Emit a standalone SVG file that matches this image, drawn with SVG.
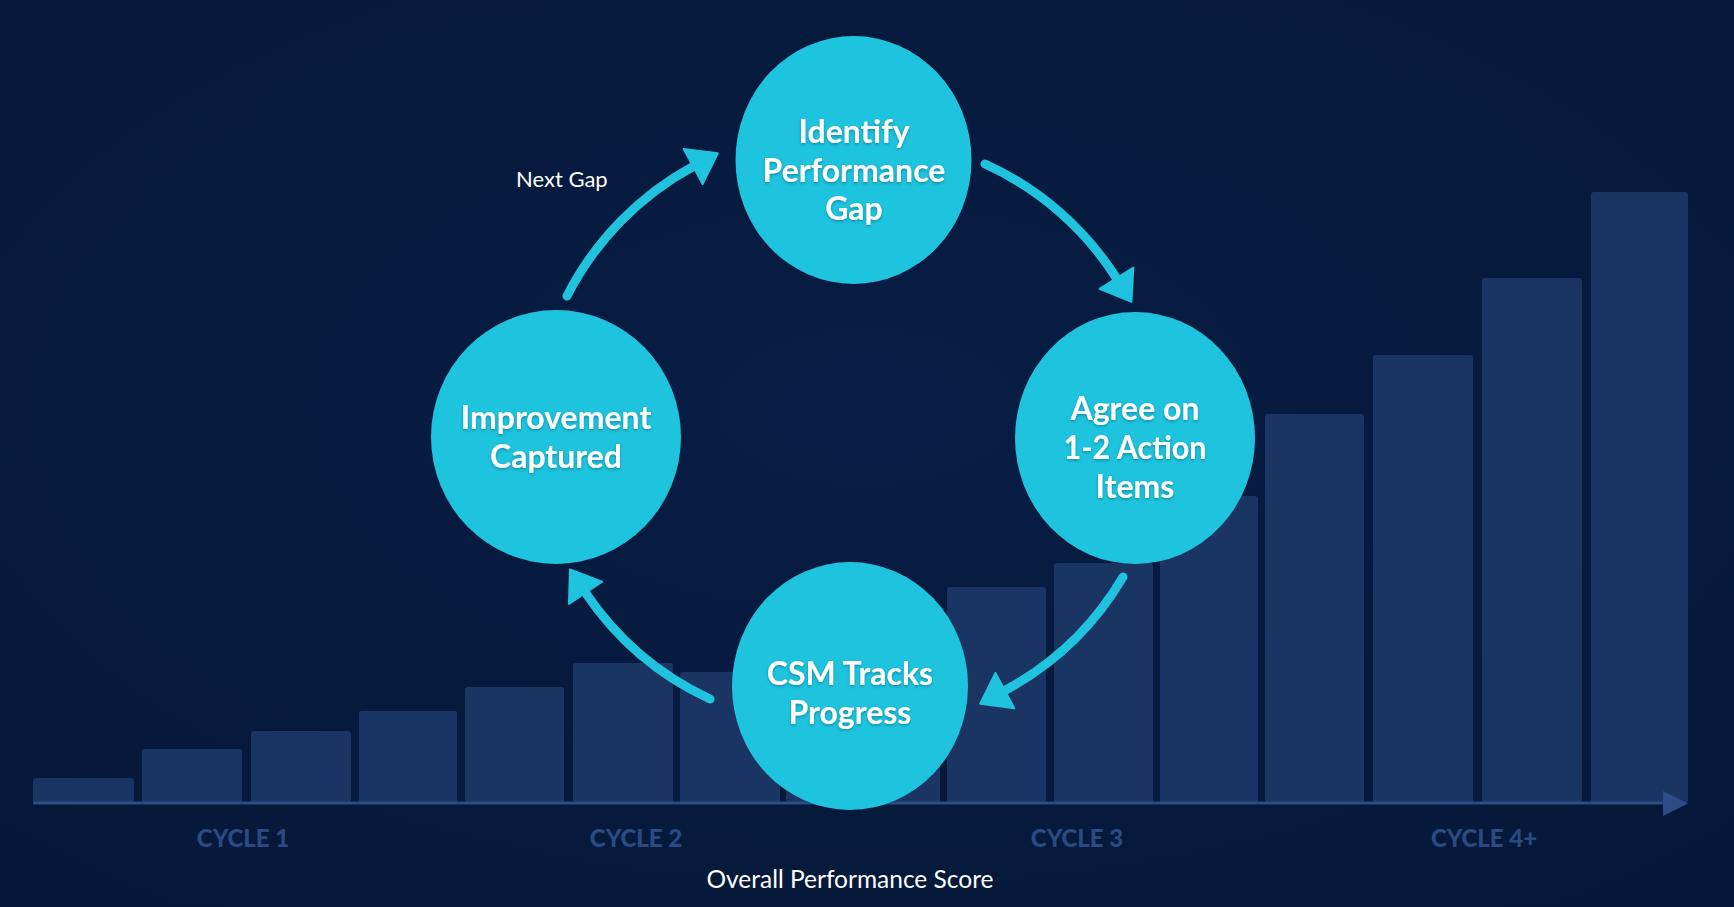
<svg xmlns="http://www.w3.org/2000/svg" width="1734" height="907" viewBox="0 0 1734 907">
  <defs>
    <radialGradient id="bg" cx="50%" cy="45%" r="75%">
      <stop offset="0" stop-color="#081d45"/>
      <stop offset="1" stop-color="#051838"/>
    </radialGradient>
    <filter id="tshadow" x="-10%" y="-30%" width="120%" height="160%">
      <feDropShadow dx="0" dy="1.5" stdDeviation="1.5" flood-color="#0a4a66" flood-opacity="0.45"/>
    </filter>
    <marker id="head" markerUnits="userSpaceOnUse" markerWidth="32" markerHeight="44" refX="1" refY="21" orient="auto" overflow="visible">
      <path d="M0,1 L28,21 L0,41 Z" fill="#1fc3de" stroke="#1fc3de" stroke-width="2" stroke-linejoin="round"/>
    </marker>
    <style>
      .bar { fill: #1a3564; }
      .node { fill: #1ec4de; }
      .lbl { font-family: Lato, "Liberation Sans", Arial, sans-serif; font-weight: 700; font-size: 32px; fill: #ffffff; text-anchor: middle; filter: url(#tshadow); }
      .cyc { font-family: Lato, "Liberation Sans", Arial, sans-serif; font-weight: 900; font-size: 24px; fill: #2b4a82; text-anchor: middle; }
      .conn { fill: none; stroke: #1fc3de; stroke-width: 9; stroke-linecap: round; marker-end: url(#head); }
      .plain { font-family: Lato, "Liberation Sans", Arial, sans-serif; font-weight: 400; fill: #ffffff; }
    </style>
  </defs>

  <rect x="0" y="0" width="1734" height="907" fill="url(#bg)"/>

  <g id="bars">
    <rect class="bar" x="33" y="778" width="101" height="25" rx="3"/>
    <rect class="bar" x="142" y="749" width="100" height="54" rx="3"/>
    <rect class="bar" x="251" y="731" width="100" height="72" rx="3"/>
    <rect class="bar" x="359" y="711" width="98" height="92" rx="3"/>
    <rect class="bar" x="465" y="687" width="99" height="116" rx="3"/>
    <rect class="bar" x="573" y="663" width="100" height="140" rx="3"/>
    <rect class="bar" x="680" y="672" width="100" height="131" rx="3"/>
    <rect class="bar" x="786" y="640" width="154" height="163" rx="3"/>
    <rect class="bar" x="947" y="587" width="99" height="216" rx="3"/>
    <rect class="bar" x="1054" y="563" width="99" height="240" rx="3"/>
    <rect class="bar" x="1160" y="496" width="98" height="307" rx="3"/>
    <rect class="bar" x="1265" y="414" width="99" height="389" rx="3"/>
    <rect class="bar" x="1373" y="355" width="100" height="448" rx="3"/>
    <rect class="bar" x="1482" y="278" width="100" height="525" rx="3"/>
    <rect class="bar" x="1591" y="192" width="97" height="611" rx="3"/>
  </g>

  <g id="axis">
    <line x1="33" y1="803" x2="1666" y2="803" stroke="#2c4c86" stroke-width="3"/>
    <path d="M1663,791 L1688,803.5 L1663,816 Z" fill="#2c4c86"/>
    <text class="cyc" x="243" y="847">CYCLE 1</text>
    <text class="cyc" x="636" y="847">CYCLE 2</text>
    <text class="cyc" x="1077" y="847">CYCLE 3</text>
    <text class="cyc" x="1484" y="847">CYCLE 4+</text>
    <text class="plain" x="850" y="888" font-size="24.5" text-anchor="middle">Overall Performance Score</text>
  </g>

  <g id="connectors">
    <path class="conn" d="M567,296 A305,305 0 0 1 694,166"/>
    <path class="conn" d="M985,164 A305,305 0 0 1 1117,279"/>
    <path class="conn" d="M1123,577 A305,305 0 0 1 1004,691"/>
    <path class="conn" d="M710,699 A305,305 0 0 1 585,592"/>
    <text class="plain" x="516" y="187" font-size="22">Next Gap</text>
  </g>

  <g id="identify">
    <ellipse class="node" cx="853.5" cy="160" rx="118" ry="124"/>
    <text class="lbl" x="854" y="143">Identify</text>
    <text class="lbl" x="854" y="182">Performance</text>
    <text class="lbl" x="854" y="220">Gap</text>
  </g>

  <g id="agree">
    <ellipse class="node" cx="1135" cy="438" rx="120" ry="126"/>
    <text class="lbl" x="1135" y="420">Agree on</text>
    <text class="lbl" x="1135" y="459" textLength="143" lengthAdjust="spacingAndGlyphs">1-2 Action</text>
    <text class="lbl" x="1135" y="498">Items</text>
  </g>

  <g id="csm">
    <ellipse class="node" cx="850" cy="686" rx="118" ry="124"/>
    <text class="lbl" x="850" y="685">CSM Tracks</text>
    <text class="lbl" x="850" y="724">Progress</text>
  </g>

  <g id="improvement">
    <ellipse class="node" cx="556" cy="437" rx="125" ry="127"/>
    <text class="lbl" x="556" y="429">Improvement</text>
    <text class="lbl" x="556" y="468">Captured</text>
  </g>
</svg>
